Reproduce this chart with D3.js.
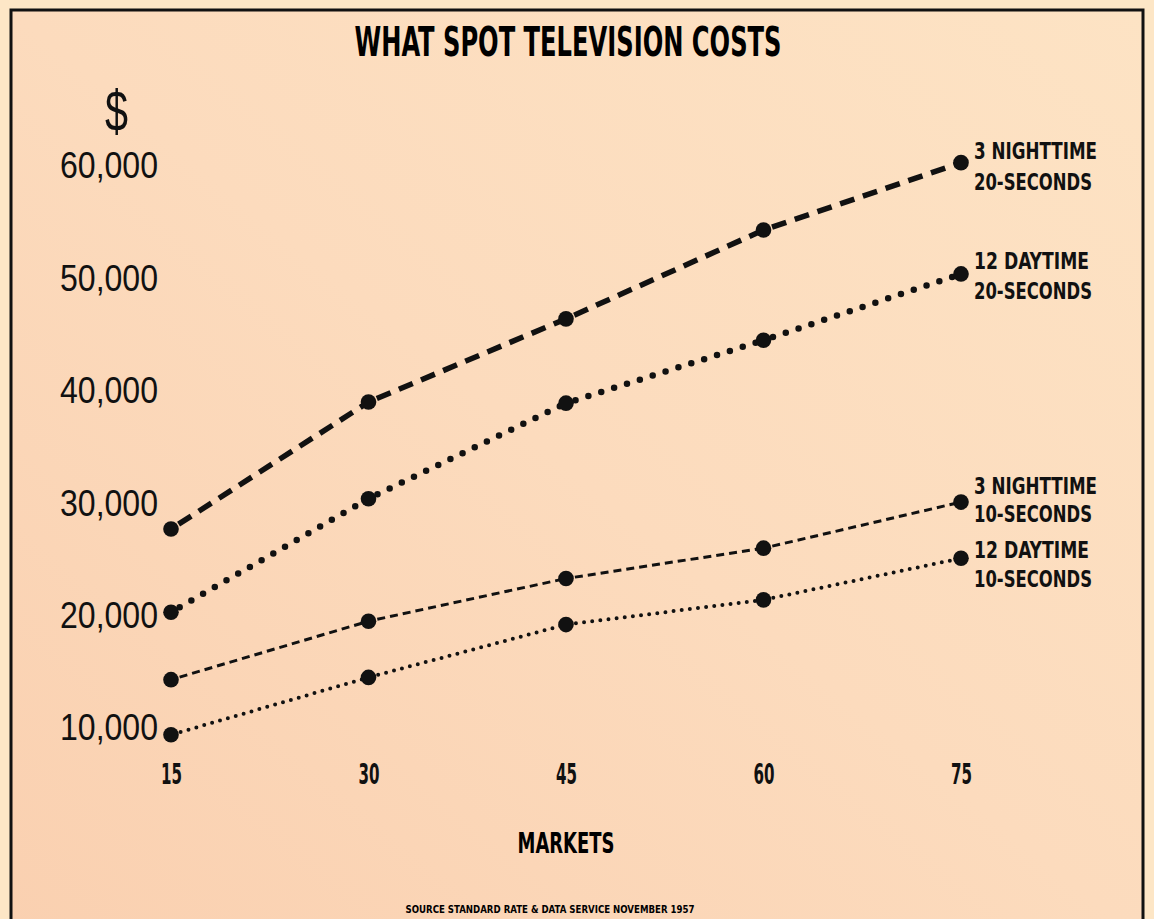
<!DOCTYPE html>
<html>
<head>
<meta charset="utf-8">
<script src="https://cdn.jsdelivr.net/npm/d3@7"></script>
<style>
  html, body { margin: 0; padding: 0; background: #fde6c4; }
  svg { display: block; }
  .cond { font-family: "Liberation Sans Narrow", "DejaVu Sans Condensed", "Liberation Sans", sans-serif; font-weight: bold; }
</style>
</head>
<body>
<svg width="1154" height="919"></svg>
<script>
// chart data
var markets = [15, 30, 45, 60, 75];
var yTicks = [10000, 20000, 30000, 40000, 50000, 60000];

var night20 = [27700, 39000, 46400, 54300, 60300];
var day20 = [20300, 30400, 38900, 44500, 50400];
var night10 = [14300, 19500, 23300, 26000, 30100];
var day10 = [9400, 14500, 19200, 21400, 25100];

var seriesNames = [
  ["3 NIGHTTIME", "20-SECONDS"],
  ["12 DAYTIME", "20-SECONDS"],
  ["3 NIGHTTIME", "10-SECONDS"],
  ["12 DAYTIME", "10-SECONDS"]
];

var svg = d3.select("svg"),
  width = +svg.attr("width"),
  height = +svg.attr("height");

// paper background
var defs = svg.append("defs");
var grad = defs.append("linearGradient")
  .attr("id", "paper")
  .attr("x1", "0").attr("y1", "1")
  .attr("x2", "1").attr("y2", "0");
grad.append("stop").attr("offset", "0").attr("stop-color", "#fad0b0");
grad.append("stop").attr("offset", "0.5").attr("stop-color", "#fcdbbd");
grad.append("stop").attr("offset", "1").attr("stop-color", "#fde3c4");

svg.append("rect")
  .attr("width", width).attr("height", height)
  .attr("fill", "#fde6c6");
svg.append("rect")
  .attr("x", 11).attr("y", 10)
  .attr("width", 1132).attr("height", 930)
  .attr("fill", "url(#paper)")
  .attr("stroke", "#111")
  .attr("stroke-width", 3);

var x = d3.scaleLinear().domain([15, 75]).range([171, 961]);
var y = d3.scaleLinear().domain([10000, 60000]).range([728, 166]);

// title
svg.append("text")
  .attr("class", "cond")
  .attr("x", 568).attr("y", 56)
  .attr("text-anchor", "middle")
  .attr("font-size", 40)
  .attr("textLength", 427)
  .attr("lengthAdjust", "spacingAndGlyphs")
  .text("WHAT SPOT TELEVISION COSTS");

// $ sign
svg.append("text")
  .attr("x", 105).attr("y", 131)
  .attr("font-family", "Liberation Sans Narrow, Liberation Sans, sans-serif")
  .attr("font-size", 58)
  .attr("fill", "#111")
  .attr("textLength", 23)
  .attr("lengthAdjust", "spacingAndGlyphs")
  .text("$");

// y axis labels
var yAxis = d3.axisLeft(y)
  .tickValues(yTicks)
  .tickSize(0)
  .tickPadding(0)
  .tickFormat(d3.format(",d"));

var gy = svg.append("g")
  .attr("transform", "translate(158,0)")
  .call(yAxis);
gy.select(".domain").remove();
gy.selectAll("text")
  .attr("font-family", "Liberation Sans Narrow, Liberation Sans, sans-serif")
  .attr("font-size", 37)
  .attr("fill", "#111")
  .attr("textLength", 98)
  .attr("lengthAdjust", "spacingAndGlyphs");

// x axis labels
var xAxis = d3.axisBottom(x)
  .tickValues(markets)
  .tickSize(0)
  .tickPadding(0)
  .tickFormat(d3.format("d"));

var gx = svg.append("g")
  .attr("transform", "translate(0,762)")
  .call(xAxis);
gx.select(".domain").remove();
gx.selectAll("text")
  .attr("class", "cond")
  .attr("dy", 0)
  .attr("y", 22)
  .attr("font-size", 29)
  .attr("fill", "#111")
  .attr("textLength", 21)
  .attr("lengthAdjust", "spacingAndGlyphs");

svg.append("text")
  .attr("class", "cond")
  .attr("x", 566).attr("y", 853)
  .attr("text-anchor", "middle")
  .attr("font-size", 29)
  .attr("textLength", 97)
  .attr("lengthAdjust", "spacingAndGlyphs")
  .text("MARKETS");

svg.append("text")
  .attr("class", "cond")
  .attr("x", 550).attr("y", 913)
  .attr("text-anchor", "middle")
  .attr("font-size", 11)
  .attr("textLength", 289)
  .attr("lengthAdjust", "spacingAndGlyphs")
  .text("SOURCE  STANDARD RATE & DATA SERVICE  NOVEMBER 1957");

// series lines
var series = [
  { values: night20, width: 5.5, dash: "15 9", cap: "butt", labelDy: [-4, 27], labelW: [123, 118] },
  { values: day20, width: 6.5, dash: "0 13.5", cap: "round", labelDy: [-5, 25], labelW: [115, 118] },
  { values: night10, width: 3, dash: "8 5", cap: "butt", labelDy: [-8, 20], labelW: [123, 118] },
  { values: day10, width: 4, dash: "0 8.2", cap: "round", labelDy: [0, 29], labelW: [115, 118] }
];

var line = d3.line()
  .x(function (d) { return x(d[0]); })
  .y(function (d) { return y(d[1]); });

series.forEach(function (s, si) {
  var pts = markets.map(function (m, i) { return [m, s.values[i]]; });
  var segs = d3.pairs(pts);

  svg.append("g").selectAll("path")
    .data(segs)
    .enter().append("path")
    .attr("d", line)
    .attr("fill", "none")
    .attr("stroke", "#111")
    .attr("stroke-width", s.width)
    .attr("stroke-dasharray", s.dash)
    .attr("stroke-dashoffset", s.cap === "round" ? -10 : -9)
    .attr("stroke-linecap", s.cap);

  svg.append("g").selectAll("circle")
    .data(pts)
    .enter().append("circle")
    .attr("cx", function (d) { return x(d[0]); })
    .attr("cy", function (d) { return y(d[1]); })
    .attr("r", 7.8)
    .attr("fill", "#111");

  var last = pts[pts.length - 1];
  svg.append("g").selectAll("text")
    .data(seriesNames[si])
    .enter().append("text")
    .attr("class", "cond")
    .attr("x", 974)
    .attr("y", function (d, i) { return y(last[1]) + s.labelDy[i]; })
    .attr("font-size", 23)
    .attr("fill", "#111")
    .attr("textLength", function (d, i) { return s.labelW[i]; })
    .attr("lengthAdjust", "spacingAndGlyphs")
    .text(function (d) { return d; });
});
</script>
</body>
</html>
